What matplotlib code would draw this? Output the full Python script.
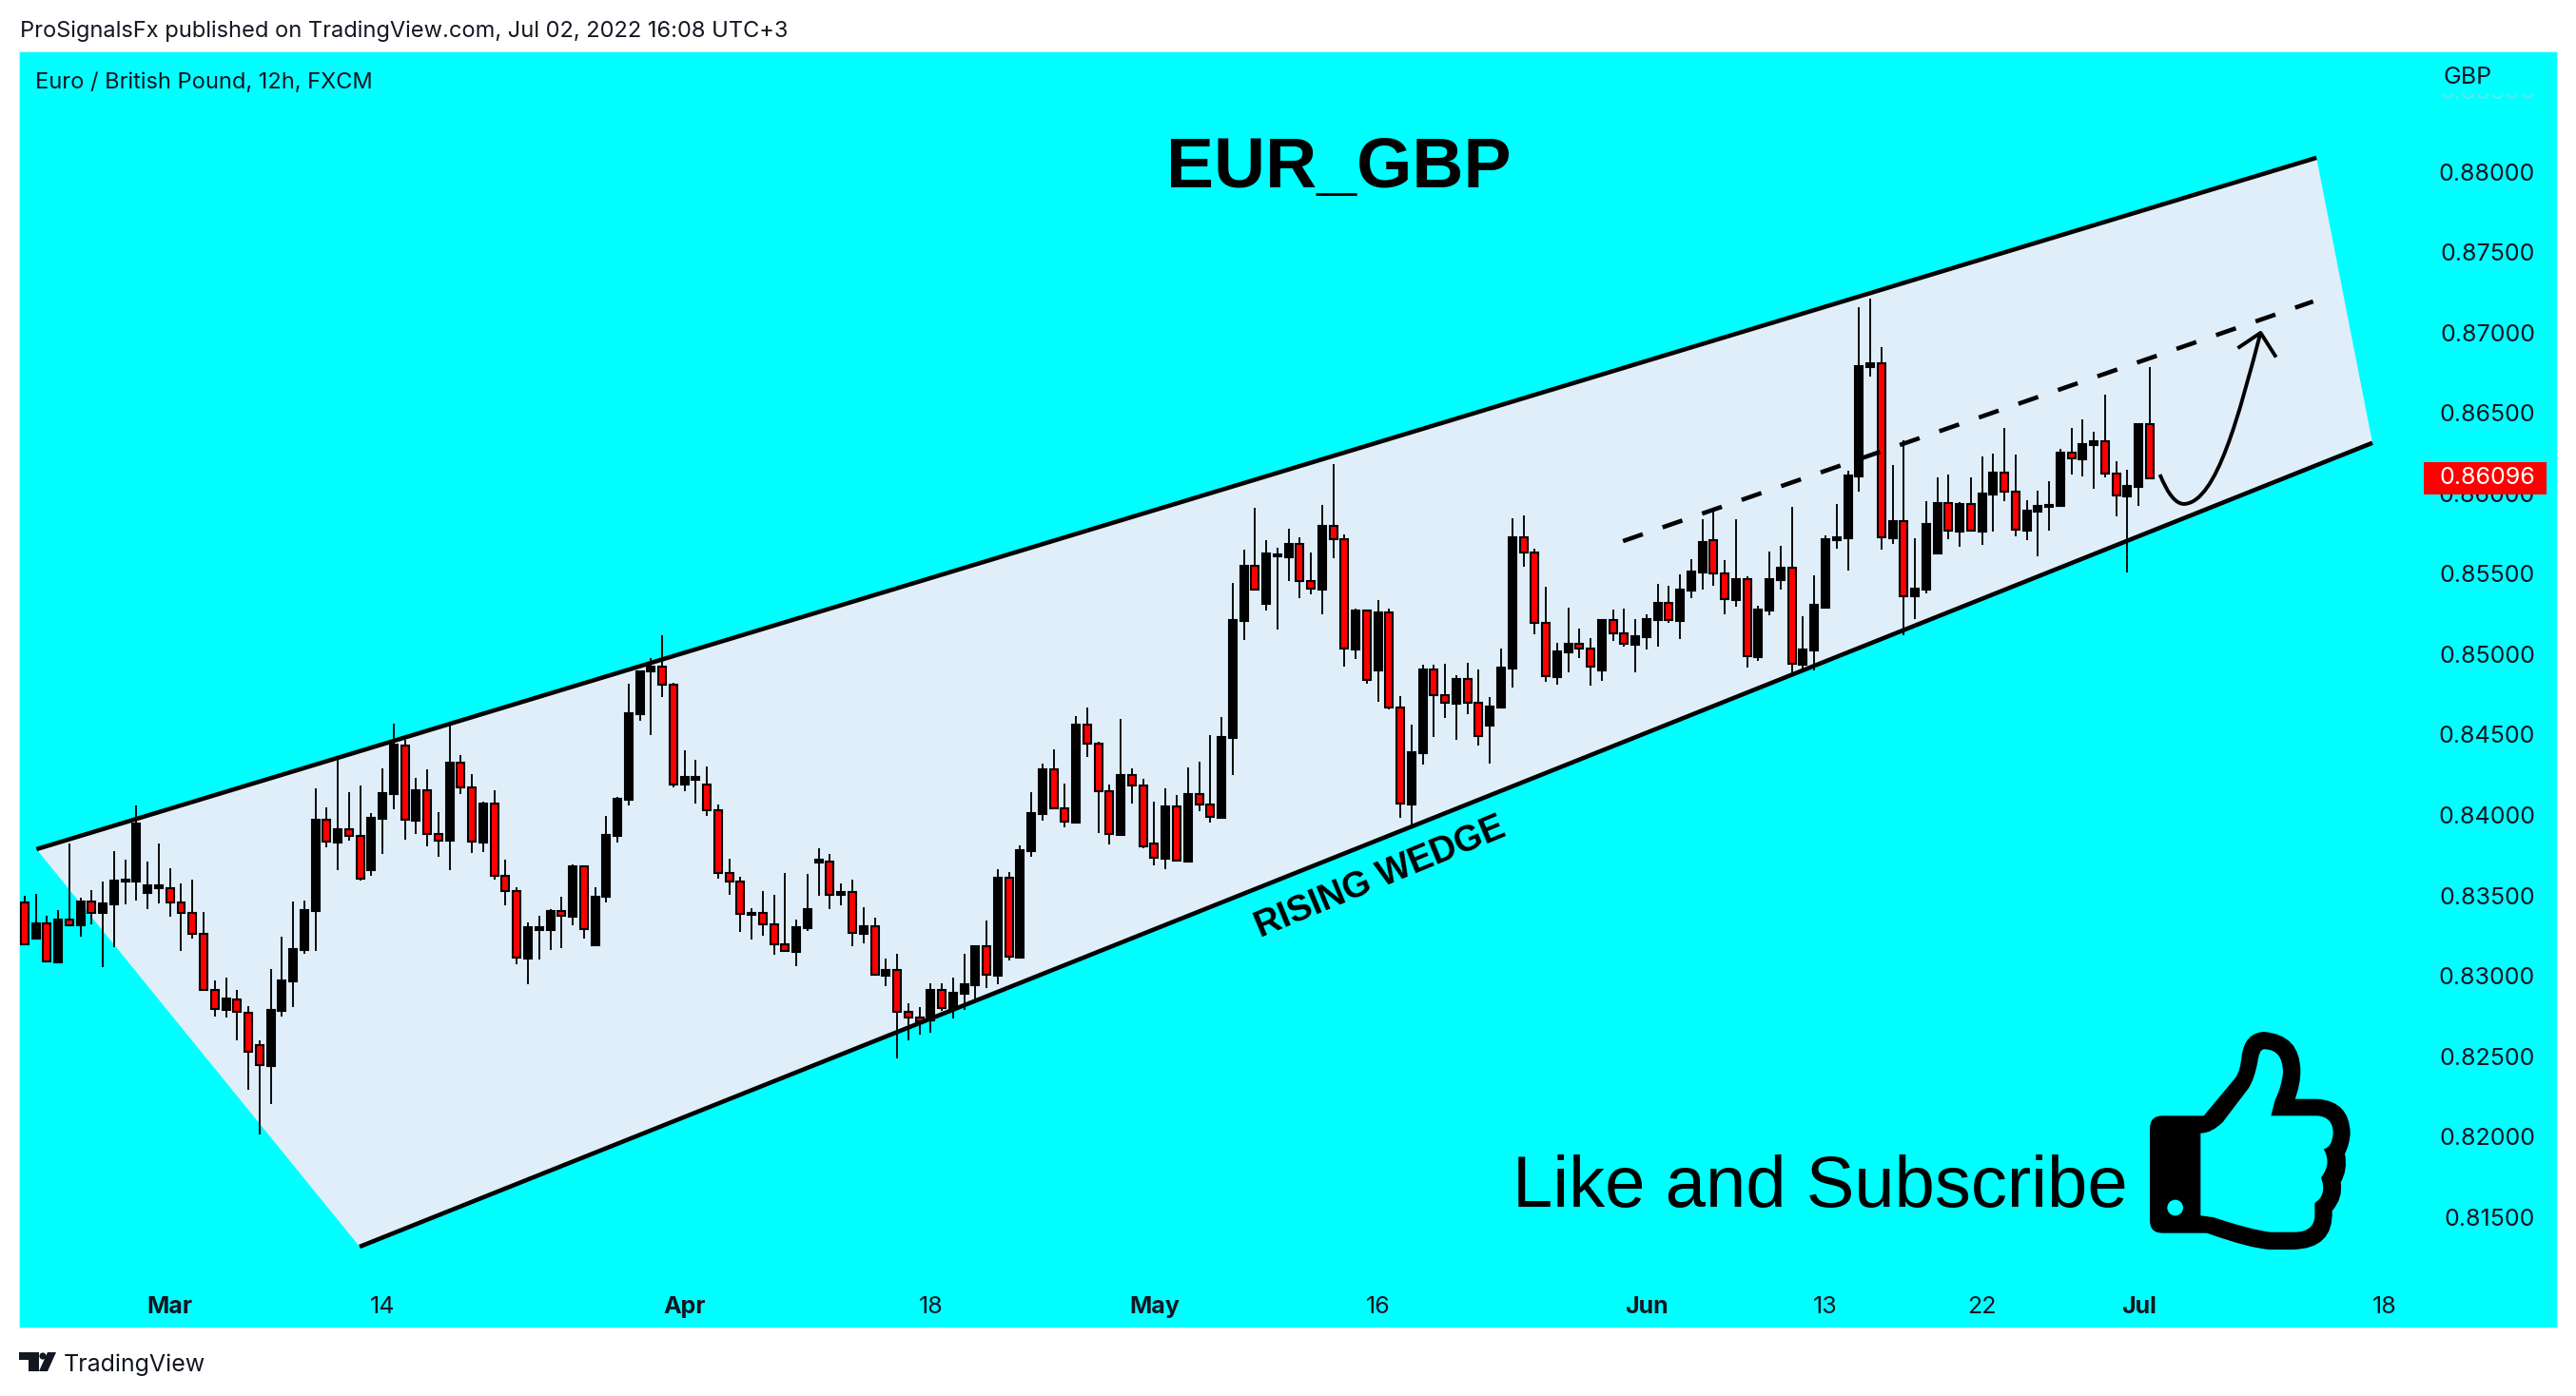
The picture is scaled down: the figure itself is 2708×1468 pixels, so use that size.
import numpy as np
import matplotlib
matplotlib.use("Agg")
import matplotlib.pyplot as plt
from matplotlib.path import Path
from matplotlib.patches import PathPatch, Polygon, Rectangle, Circle

plt.rcParams['font.family'] = ['Inter', 'DejaVu Sans']

# EURGBP 12h candles, in 1/100000 of a pound
highs = [83496,83507,83371,83407,83821,83486,83533,83584,83774,83720,
         84058,83709,83821,83667,83573,83596,83395,82969,82987,82910,
         82809,82596,83040,83241,83460,83466,84164,84046,84342,84140,
         84182,84010,84288,84570,84466,84229,84282,84016,84574,84371,
         84253,84081,84152,83720,83549,83330,83371,83413,83490,83691,
         83685,83549,83993,84111,84815,84896,84974,85116,84821,84401,
         84341,84300,84063,83726,83614,83418,83525,83501,83637,83347,
         83631,83791,83756,83572,83596,83424,83359,83105,83135,82827,
         82803,82951,82951,82987,83135,83188,83342,83661,83643,83809,
         84140,84318,84406,84193,84614,84667,84454,84188,84596,84288,
         84223,84081,84164,84122,84294,84330,84495,84608,85446,85649,
         85909,85708,85661,85779,85726,85631,85927,86182,85744,85282,
         85275,85336,85282,84738,84561,84933,84933,84939,84868,84945,
         84904,84732,85034,85844,85862,85655,85418,85069,85288,85158,
         85099,85217,85276,85282,85217,85247,85436,85424,85495,85590,
         85838,85886,85584,85838,85483,85300,85637,85673,85915,85235,
         85489,85738,85933,86140,87158,87213,86909,86176,86330,85720,
         85951,86099,86117,85945,86099,86229,86247,86407,86241,85957,
         86016,86075,86276,86407,86460,86383,86614,86200,86146,86430,
         86785]
lows = [83194,83233,83087,83085,83316,83243,83322,83056,83180,83446,
        83470,83417,83452,83364,83151,83233,82908,82748,82742,82600,
        82293,82015,82204,82748,82807,83139,83156,83801,83659,83843,
        83594,83624,83760,84038,83849,83884,83807,83742,83659,84133,
        83766,83772,83600,83440,83074,82949,83103,83162,83174,83316,
        83233,83192,83458,83831,84057,84588,84499,84736,84174,84150,
        84073,83996,83606,83505,83275,83227,83251,83133,83146,83062,
        83280,83499,83417,83436,83186,83204,83004,82937,82488,82600,
        82636,82647,82784,82736,82789,82839,82926,82949,83093,83115,
        83742,83967,84040,83925,83955,84363,83890,83819,83872,84073,
        83795,83689,83665,83714,83712,84026,83955,83975,84251,85091,
        85401,85274,85156,85458,85351,85375,85251,85600,84925,84973,
        84819,84706,84659,83985,83932,84316,84488,84606,84470,84630,
        84434,84322,84665,84795,85547,85127,84831,84813,84890,84979,
        84807,84837,85085,85050,84890,85032,85050,85198,85097,85351,
        85405,85428,85251,85298,84919,84961,85245,85405,84878,84914,
        84902,85292,85659,85523,86014,86730,85653,85689,85117,85221,
        85377,85630,85718,85671,85768,85683,85766,85955,85736,85712,
        85612,85772,85920,86121,86109,86032,86099,85860,85511,85925,
        86095]
opens = [83454,83233,83324,83085,83348,83316,83460,83393,83446,83584,
         83588,83517,83547,83547,83458,83393,83259,82914,82790,82855,
         82772,82571,82441,82784,82967,83162,83405,83969,83831,83910,
         83872,83659,83979,84133,84434,83967,84152,83880,83843,84324,
         84170,83831,84069,83620,83525,83109,83287,83287,83401,83369,
         83679,83192,83490,83872,84097,84629,84892,84921,84809,84188,
         84221,84188,84028,83637,83584,83379,83389,83318,83194,83150,
         83298,83706,83708,83501,83519,83263,83306,83002,83034,82774,
         82738,82720,82910,82795,82890,82943,83182,83002,83608,83115,
         83777,84008,84282,84040,83955,84560,84442,84146,83878,84247,
         84182,83825,83730,84051,83712,84128,84063,83984,84482,85209,
         85549,85316,85608,85606,85685,85454,85405,85797,85714,85032,
         85270,84902,85259,84671,84068,84387,84904,84744,84695,84845,
         84697,84559,84671,84914,85726,85631,85194,84860,85014,85063,
         85034,84902,85211,85129,85061,85109,85215,85318,85209,85399,
         85511,85708,85501,85339,85466,84985,85274,85464,85537,84937,
         85026,85292,85712,85724,86109,86789,86809,85724,85827,85358,
         85405,85630,85939,85766,85933,85766,85996,86129,86010,85772,
         85890,85916,85920,86253,86215,86304,86324,86123,85985,86044,
         86430]
closes = [83194,83324,83087,83348,83316,83460,83393,83448,83590,83596,
          83945,83561,83561,83458,83393,83259,82914,82792,82857,82774,
          82525,82443,82786,82969,83164,83407,83969,83833,83910,83872,
          83602,83981,84135,84436,83969,84152,83880,83843,84324,84170,
          83833,84069,83620,83525,83111,83300,83300,83401,83371,83679,
          83289,83490,83874,84099,84631,84894,84923,84809,84188,84235,
          84235,84028,83637,83584,83383,83389,83318,83194,83152,83300,
          83413,83720,83501,83519,83265,83306,83004,83034,82774,82738,
          82714,82910,82797,82892,82945,83182,83004,83608,83117,83779,
          84010,84282,84040,83957,84560,84442,84146,83880,84247,84182,
          83803,83732,84051,83714,84128,84063,83986,84483,85211,85549,
          85401,85625,85623,85685,85454,85407,85797,85714,85034,85270,
          84843,85259,84671,84070,84389,84904,84744,84697,84845,84697,
          84490,84673,84916,85726,85631,85194,84862,85016,85063,85034,
          84921,85211,85129,85063,85111,85217,85318,85211,85401,85513,
          85696,85501,85341,85466,84987,85276,85466,85537,84939,85028,
          85306,85714,85726,86111,86791,86809,85726,85827,85359,85407,
          85809,85939,85768,85933,85768,85998,86129,86010,85774,85892,
          85922,85927,86253,86217,86306,86324,86123,85987,86046,86430,
          86096]
last_price = 0.86096

x_ticks = [13, 32, 59, 81, 101, 121, 145, 161, 175, 189, 211]
x_labels = ["Mar", "14", "Apr", "18", "May", "16", "Jun", "13", "22", "Jul", "18"]
months = ["Mar", "Apr", "May", "Jun", "Jul"]
y_ticks = [0.815, 0.82, 0.825, 0.83, 0.835, 0.84, 0.845, 0.85, 0.855, 0.86, 0.865, 0.87, 0.875, 0.88]

# drawings on the chart, (bar number, price)
wedge_x = [1.06, 204.9, 209.9, 29.95]
wedge_y = [0.83787, 0.88089, 0.86315, 0.81314]
dash_x = [142.9, 204.6]
dash_y = [0.85704, 0.87195]
arrow_x = [190.9, 192.0, 193.1, 196.0, 198.0, 199.9]
arrow_y = [0.86118, 0.8593, 0.85935, 0.8595, 0.8650, 0.87000]
head_x = [198.0, 199.9, 201.2]
head_y = [0.86911, 0.87000, 0.86858]

# thumb outline as read from the zoom, (x, y) in a 900x840 box
thumb_outer = [(160,340),(290,340),(390,220),(405,200),(410,150),(420,78),(480,75),(595,85),(595,200),
               (595,240),(578,287),(650,287),(750,295),(752,395),(750,430),(735,460),(745,510),(722,550),
               (730,600),(695,640),(700,760),(570,762),(500,762),(440,760),(300,710),(160,710),(120,710),
               (120,670),(120,380),(120,340),(160,340)]
outer_codes = "MLL" + "C" * 8 + "L" + "C" * 10 + "LCCLCCLCC"
thumb_inner = [(280,395),(315,395),(350,360),(430,255),(450,225),(460,170),(465,130),(480,130),(540,130),
               (540,205),(535,250),(515,290),(502,340),(650,340),(698,345),(698,395),(695,440),(668,445),
               (695,490),(660,535),(680,590),(640,615),(640,660),(635,707),(575,707),(500,707),(440,700),
               (320,660),(280,655)]
inner_codes = "MCCL" + "C" * 8 + "LL" + "C" * 8 + "LCCLCCL"

CYAN = "#00FFFF"
RED = "#FF0000"
TEXT = "#131722"
WEDGE = "#E0EEFA"


def make_path(points, codes):
    # C means a quadratic piece, two points at a time
    verts = [(2220 + px / 3, 1060 + py / 3) for px, py in points]
    lookup = {"M": Path.MOVETO, "L": Path.LINETO, "C": Path.CURVE3}
    out = [lookup[k] for k in codes]
    return Path(verts + [verts[0]], out + [Path.CLOSEPOLY])


fig = plt.figure(figsize=(27.08, 14.68), dpi=100, facecolor="white")
ax = fig.add_axes([20 / 2708, 72 / 1468, 2668 / 2708, 1342 / 1468], facecolor=CYAN)
ax.set_xlim(-0.5, 226.4)
ax.set_ylim(0.80811, 0.88751)
for s in ax.spines.values():
    s.set_color("#D6F0F5")
    s.set_linewidth(0.8)

x = np.arange(len(opens))
o = np.array(opens) / 100000
c = np.array(closes) / 100000
h = np.array(highs) / 100000
l = np.array(lows) / 100000
colors = [RED if cl < op else "black" for op, cl in zip(o, c)]

ax.add_patch(Polygon(list(zip(wedge_x, wedge_y)), closed=True, facecolor=WEDGE, edgecolor="none", zorder=1))
ax.vlines(x, l, h, color="black", linewidth=1.35, zorder=2)
ax.bar(x, np.abs(c - o), bottom=np.minimum(o, c), width=0.68, color=colors, edgecolor="black", linewidth=1.5, zorder=3)

# wedge borders
ax.plot(wedge_x[:2], wedge_y[:2], color="black", lw=3.3, zorder=4, solid_capstyle="butt")
ax.plot([wedge_x[3], wedge_x[2]], [wedge_y[3], wedge_y[2]], color="black", lw=3.3, zorder=4, solid_capstyle="butt")
ax.plot(dash_x, dash_y, color="black", lw=3.3, zorder=4, dashes=(4.8, 4.8), dash_capstyle="butt")

# the curved forecast arrow
curve = Path(list(zip(arrow_x, arrow_y)), [Path.MOVETO, Path.CURVE3, Path.CURVE3, Path.CURVE4, Path.CURVE4, Path.CURVE4])
ax.add_patch(PathPatch(curve, facecolor="none", edgecolor="black", lw=2.8, zorder=4))
ax.plot(head_x, head_y, color="black", lw=2.8, zorder=4)

ax.yaxis.tick_right()
ax.set_yticks(y_ticks)
ax.set_yticklabels([f"{v:.5f}" for v in y_ticks], fontsize=18, color=TEXT, ha="right")
ax.tick_params(axis="y", length=0, pad=-16.5)
ax.set_xticks(x_ticks)
ax.set_xticklabels(x_labels, fontsize=18, color=TEXT)
ax.tick_params(axis="x", length=0, pad=-24)
for lab in ax.get_xticklabels():
    if lab.get_text() in months:
        lab.set_fontweight("bold")

# last price tag on the scale
tr = ax.get_yaxis_transform()
ax.add_patch(Rectangle(((2548 - 20) / 2668, last_price - 0.001), 129 / 2668, 0.002, transform=tr,
                       facecolor=RED, edgecolor="none", zorder=6))
ax.text((2665 - 20) / 2668, last_price, f"{last_price:.5f}", transform=tr, color="white", fontsize=18,
        ha="right", va="center", zorder=7)

# everything placed by pixel goes on a transparent overlay
ov = fig.add_axes([0, 0, 1, 1], facecolor="none")
ov.set_xlim(0, 2708)
ov.set_ylim(1468, 0)
ov.axis("off")

ov.text(21, 33, "ProSignalsFx published on TradingView.com, Jul 02, 2022 16:08 UTC+3", fontsize=17, color=TEXT, va="center")
ov.text(37, 87, "Euro / British Pound, 12h, FXCM", fontsize=17, color=TEXT, va="center")
# half hidden scale label under the currency
ov.text(2665, 97, "0.88500", fontsize=18, color="#63E4E8", ha="right", va="center")
ov.add_patch(Rectangle((2560, 60), 120, 39, facecolor=CYAN, edgecolor="none", zorder=3))
ov.text(2569, 81, "GBP", fontsize=18, color=TEXT, va="center", zorder=4)

ov.text(1407, 178, "EUR_GBP", family="Liberation Sans", fontweight="bold", fontsize=54, color="black", ha="center", va="center")
ov.text(1451, 923, "RISING WEDGE", family="Liberation Sans", fontweight="bold", fontsize=27, color="black",
        ha="center", va="center", rotation=22.5, rotation_mode="anchor")
ov.text(1590, 1249, "Like and Subscribe", family="Liberation Sans", fontsize=54.7, color="black", va="center")

ov.add_patch(PathPatch(make_path(thumb_outer, outer_codes), facecolor="black", edgecolor="none"))
ov.add_patch(PathPatch(make_path(thumb_inner, inner_codes), facecolor=CYAN, edgecolor="none"))
ov.add_patch(Circle((2220 + 200 / 3, 1060 + 630 / 3), 25 / 3, facecolor=CYAN, edgecolor="none"))

# TradingView logo and name
ov.add_patch(Polygon([(20, 1422), (41, 1422), (41, 1442), (30, 1442), (30, 1430), (20, 1430)], closed=True, facecolor=TEXT, edgecolor="none"))
ov.add_patch(Circle((45, 1426), 3.6, facecolor=TEXT, edgecolor="none"))
ov.add_patch(Polygon([(50, 1422), (59, 1422), (50, 1442), (41, 1442)], closed=True, facecolor=TEXT, edgecolor="none"))
ov.text(67, 1435, "TradingView", fontsize=18, color=TEXT, va="center")

fig.savefig("out.png", dpi=100)
